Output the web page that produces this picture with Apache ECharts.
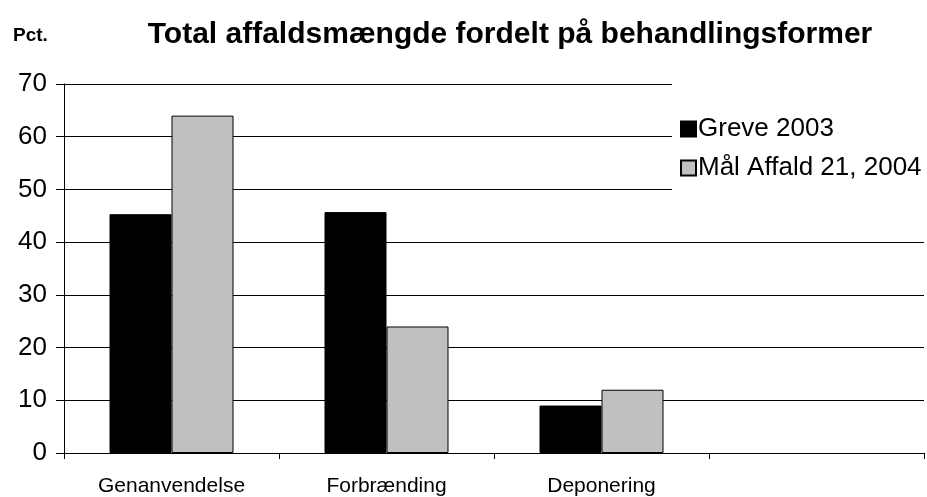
<!DOCTYPE html>
<html>
<head>
<meta charset="utf-8">
<script src="https://cdn.jsdelivr.net/npm/echarts@6/dist/echarts.min.js"></script>
<style>
  html, body { margin: 0; padding: 0; background: #fff; }
  #chart { width: 927px; height: 497px; }
</style>
</head>
<body>
<div id="chart"></div>
<script>
const categories = ['Genanvendelse', 'Forbrænding', 'Deponering', '']
const greve2003 = [45.3, 45.7, 9]
const maal2004 = [64, 24, 12]
const seriesNames = ['Greve 2003', 'Mål Affald 21, 2004']

const font = 'Liberation Sans, Arial, sans-serif'
const chart = echarts.init(document.getElementById('chart'))

const barStyle = (color) => ({
  color,
  borderColor: '#000',
  borderWidth: 1,
})

chart.setOption({
  animation: false,
  backgroundColor: '#fff',
  textStyle: { fontFamily: font, color: '#000' },
  title: [
    {
      text: 'Total affaldsmængde fordelt på behandlingsformer',
      left: 505,
      top: 15,
      textAlign: 'center',
      textStyle: { fontSize: 30, fontWeight: 'bold', color: '#000', fontFamily: font },
    },
    {
      text: 'Pct.',
      left: 8,
      top: 21,
      textStyle: { fontSize: 19, fontWeight: 'bold', color: '#000', fontFamily: font },
    },
  ],
  legend: {
    data: seriesNames,
    orient: 'vertical',
    left: 672,
    top: 76,
    padding: [40, 60, 14, 8],
    backgroundColor: '#fff',
    itemGap: 13,
    itemWidth: 15,
    itemHeight: 15,
    icon: 'rect',
    textStyle: { fontSize: 26, color: '#000', fontFamily: font, padding: [0, 0, 0, -3] },
  },
  grid: {
    left: 64,
    right: 3,
    top: 84,
    bottom: 42,
  },
  xAxis: {
    type: 'category',
    data: categories,
    axisLine: { lineStyle: { color: '#000', width: 1 } },
    axisTick: { show: true, length: 6, lineStyle: { color: '#000' } },
    axisLabel: { fontSize: 21, color: '#000', margin: 23, fontFamily: font },
  },
  yAxis: {
    type: 'value',
    min: 0,
    max: 70,
    interval: 10,
    axisLine: { show: true, lineStyle: { color: '#000', width: 1 } },
    axisTick: { show: true, length: 8, lineStyle: { color: '#000' } },
    axisLabel: { fontSize: 26, color: '#000', margin: 17, fontFamily: font },
    splitLine: { lineStyle: { color: '#000', width: 1 } },
  },
  series: [
    {
      name: seriesNames[0],
      type: 'bar',
      data: greve2003,
      barWidth: 62,
      barGap: '0%',
      itemStyle: barStyle('#000000'),
    },
    {
      name: seriesNames[1],
      type: 'bar',
      data: maal2004,
      barWidth: 62,
      barGap: '0%',
      itemStyle: barStyle('#c0c0c0'),
    },
  ],
})
</script>
</body>
</html>
